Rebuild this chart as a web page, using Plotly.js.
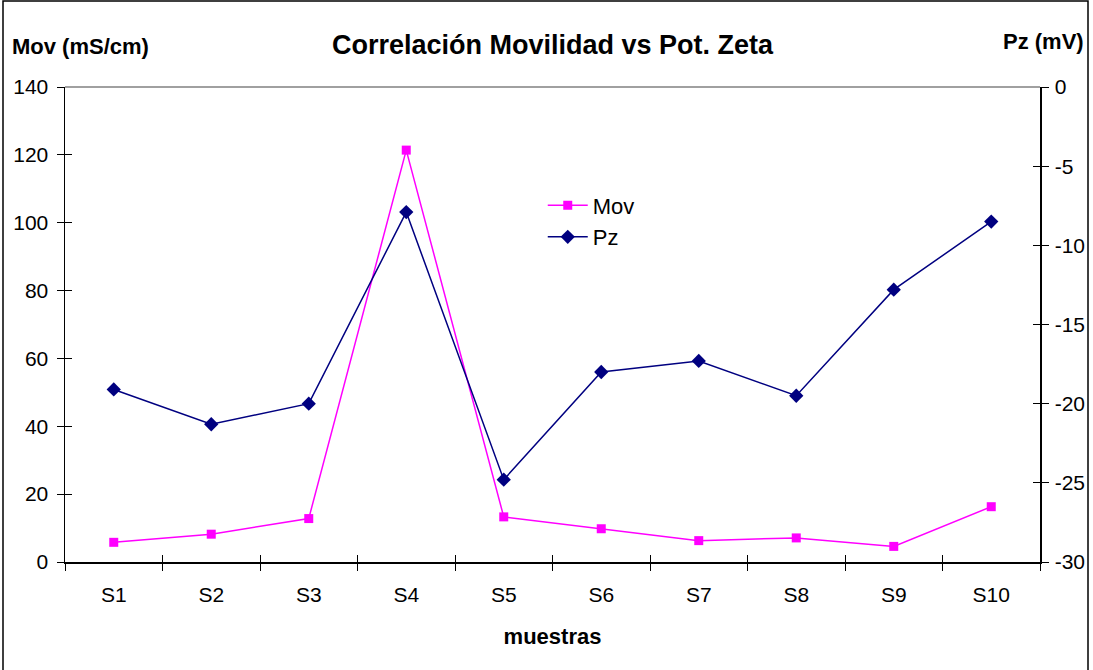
<!DOCTYPE html>
<html>
<head>
<meta charset="utf-8">
<script src="https://cdn.plot.ly/plotly-3.0.1.min.js"></script>
<style>
  html, body { margin: 0; padding: 0; background: #fff; }
  #chart { width: 1093px; height: 670px; }
</style>
</head>
<body>
<div id="chart"></div>
<script>
const categories = ['S1', 'S2', 'S3', 'S4', 'S5', 'S6', 'S7', 'S8', 'S9', 'S10'];
const movValues = [5.8, 8.2, 12.8, 121.4, 13.3, 9.8, 6.3, 7.1, 4.6, 16.3];
const pzValues = [-19.1, -21.3, -20.0, -7.9, -24.8, -18.0, -17.3, -19.5, -12.8, -8.5];
const leftTicks = [0, 20, 40, 60, 80, 100, 120, 140];
const rightTicks = [0, -5, -10, -15, -20, -25, -30];

const FONT = 'Liberation Sans, Arial, sans-serif';

const traces = [
  {
    x: categories, y: movValues, name: 'Mov', type: 'scatter', mode: 'lines+markers',
    line: { color: '#FF00FF', width: 1.5 },
    marker: { symbol: 'square', size: 9, color: '#FF00FF' },
    xaxis: 'x', yaxis: 'y'
  },
  {
    x: categories, y: pzValues, name: 'Pz', type: 'scatter', mode: 'lines+markers',
    line: { color: '#000080', width: 1.5 },
    marker: { symbol: 'diamond', size: 11, color: '#000080' },
    xaxis: 'x', yaxis: 'y2'
  },
  // empty helper traces so the inner-tick overlay axes are drawn
  { x: [], y: [], type: 'scatter', mode: 'lines', showlegend: false, hoverinfo: 'skip', xaxis: 'x2', yaxis: 'y3' },
  { x: [], y: [], type: 'scatter', mode: 'lines', showlegend: false, hoverinfo: 'skip', xaxis: 'x2', yaxis: 'y4' }
];

const tickCommon = { ticklen: 7, tickcolor: '#000', tickwidth: 1, showgrid: false, zeroline: false };

const layout = {
  width: 1093, height: 670,
  margin: { l: 65, r: 53, t: 87, b: 108 },
  paper_bgcolor: '#ffffff', plot_bgcolor: '#ffffff',
  font: { family: FONT, size: 21, color: '#000' },
  showlegend: true,
  legend: {
    x: 0.49, y: 0.795, xanchor: 'left', yanchor: 'top',
    font: { family: FONT, size: 22, color: '#000' },
    bgcolor: 'rgba(0,0,0,0)', tracegroupgap: 16, itemwidth: 40
  },
  title: {
    text: '<b>Correlación Movilidad vs Pot. Zeta</b>',
    font: { family: FONT, size: 27, color: '#000' },
    x: 0.5, xref: 'paper', xanchor: 'center',
    y: 1 - 45 / 670, yref: 'container', yanchor: 'middle'
  },
  xaxis: Object.assign({
    type: 'category', categoryorder: 'array', categoryarray: categories,
    range: [-0.5, 9.5], tickson: 'boundaries',
    showline: true, linecolor: '#000', linewidth: 1.5,
    ticks: 'outside', ticklabelstandoff: 13,
    tickfont: { family: FONT, size: 21 },
    title: { text: '<b>muestras</b>', font: { family: FONT, size: 22 }, standoff: 24 }
  }, tickCommon),
  xaxis2: Object.assign({
    type: 'category', categoryorder: 'array', categoryarray: categories,
    range: [-0.5, 9.5], tickson: 'boundaries', overlaying: 'x', side: 'bottom',
    showline: false, ticks: 'inside', showticklabels: false
  }, tickCommon),
  yaxis: Object.assign({
    range: [0, 140], tickvals: leftTicks, ticktext: leftTicks.map(String),
    showline: true, linecolor: '#000', linewidth: 1.5,
    ticks: 'outside', ticklabelstandoff: 4,
    tickfont: { family: FONT, size: 21 }
  }, tickCommon),
  yaxis2: Object.assign({
    range: [-30, 0], overlaying: 'y', side: 'right',
    tickvals: rightTicks, ticktext: rightTicks.map(String),
    showline: true, linecolor: '#000', linewidth: 1.5,
    ticks: 'outside', ticklabelstandoff: 2,
    tickfont: { family: FONT, size: 21 }
  }, tickCommon),
  yaxis3: Object.assign({
    range: [0, 140], tickvals: leftTicks, overlaying: 'y', side: 'left',
    showline: false, ticks: 'inside', showticklabels: false
  }, tickCommon),
  yaxis4: Object.assign({
    range: [-30, 0], tickvals: rightTicks, overlaying: 'y', side: 'right',
    showline: false, ticks: 'inside', showticklabels: false
  }, tickCommon),
  annotations: [
    { text: '<b>Mov (mS/cm)</b>', xref: 'paper', yref: 'paper', x: (80 - 65) / 975, y: (562 - 47) / 475,
      xanchor: 'center', yanchor: 'middle', showarrow: false, font: { family: FONT, size: 22, color: '#000' } },
    { text: '<b>Pz (mV)</b>', xref: 'paper', yref: 'paper', x: (1086 - 65) / 975, y: (562 - 42) / 475,
      xanchor: 'right', yanchor: 'middle', showarrow: false, font: { family: FONT, size: 22, color: '#000' } }
  ],
  shapes: [
    { type: 'line', xref: 'paper', yref: 'paper', x0: 0, x1: 1, y0: 1, y1: 1, line: { color: '#808080', width: 1.5 } },
    { type: 'rect', xref: 'paper', yref: 'paper', x0: (3 - 65) / 975, x1: (1088 - 65) / 975,
      y0: (562 - 720) / 475, y1: (562 - 1) / 475, line: { color: '#000', width: 1.5 }, layer: 'below' }
  ]
};

Plotly.newPlot('chart', traces, layout, { displayModeBar: false, staticPlot: true });
</script>
</body>
</html>
